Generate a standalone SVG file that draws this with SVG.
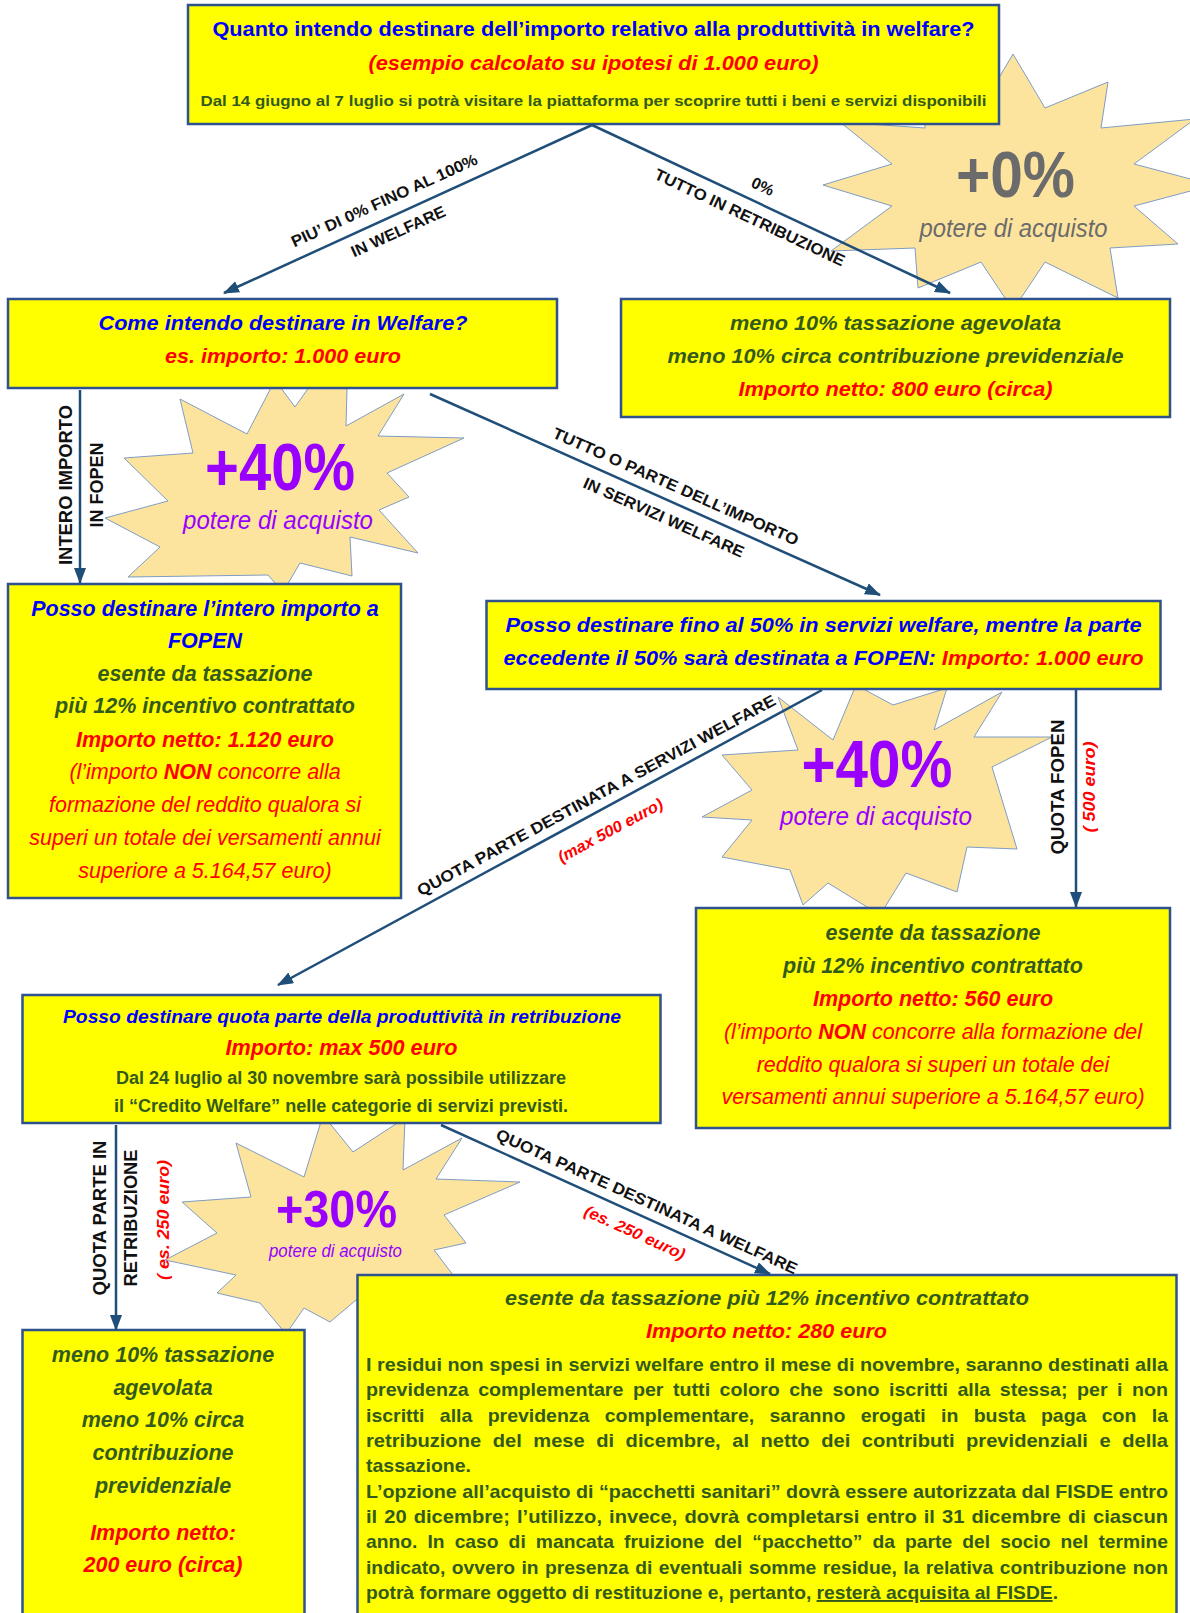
<svg xmlns="http://www.w3.org/2000/svg" width="1190" height="1613" viewBox="0 0 1190 1613">
<defs>
<style>
.box{fill:#ffff00;stroke:#2f528f;stroke-width:2.5}
.star{fill:#fde49e;stroke:#7f9cc4;stroke-width:1}
.conn{stroke:#1f4e79;stroke-width:2.5;fill:none;marker-end:url(#ah)}
text{font-family:"Liberation Sans",Arial,sans-serif}
.b{font-weight:bold}
.i{font-style:italic}
.m{text-anchor:middle}
.blue{fill:#0000ff}
.red{fill:#ff0000}
.green{fill:#335a1c}
.purple{fill:#9900ff}
.gray{fill:#6b6b6b}
.lbl{font-size:16px;font-weight:bold;fill:#111;text-anchor:middle}
.rl{font-size:16px;font-weight:bold;font-style:italic;fill:#ff0000;text-anchor:middle}
.vl{font-size:18px;font-weight:bold;fill:#111;text-anchor:middle}
.p{font-size:19px;font-weight:bold;fill:#335a1c}
</style>
<marker id="ah" markerUnits="userSpaceOnUse" markerWidth="16" markerHeight="12" viewBox="0 0 16 12" refX="15" refY="6" orient="auto">
<path d="M0,0 L16,6 L0,12 z" fill="#1f4e79"/>
</marker>
</defs>
<rect width="1190" height="1613" fill="#ffffff"/>

<!-- starbursts -->
<g id="star-0">
<polygon class="star" points="1213,185 1134,206 1178,244 1110,248 1118,298 1045,262 1013,310 981,262 918,288 915,248 831,251 892,206 823,185 892,164 840,122 925,128 923,88 981,108 1013,54 1045,108 1108,82 1101,128 1195,119 1134,164"/>
<text class="b gray m" x="1015.5" y="197" font-size="65" textLength="119" lengthAdjust="spacingAndGlyphs">+0%</text>
<text class="i gray m" x="1013.5" y="237" font-size="26" textLength="188" lengthAdjust="spacingAndGlyphs">potere di acquisto</text>
</g>
<g id="star-40a">
<polygon class="star" points="180,399 247,434 275,380 295,407 314,380 347,389 346,426 404,394 378,436 464,438 387,473 409,497 379,510 418,553 350,537 352,576 300,563 283,592 268,575 128,577 160,547 105,518 168,501 124,458 193,453"/>
<text class="b purple m" x="280" y="490" font-size="66" textLength="150" lengthAdjust="spacingAndGlyphs">+40%</text>
<text class="i purple m" x="278" y="529" font-size="25" textLength="190" lengthAdjust="spacingAndGlyphs">potere di acquisto</text>
</g>
<g id="star-40b">
<polygon class="star" points="778,697 833,740 856,685 893,705 947,688 934,730 1002,692 974,737 1052,737 992,767 1017,849 967,847 957,892 906,873 880,915 828,883 803,905 790,870 722,857 752,820 702,817 752,790 722,755 798,750"/>
<text class="b purple m" x="877" y="787" font-size="66" textLength="151" lengthAdjust="spacingAndGlyphs">+40%</text>
<text class="i purple m" x="876" y="825" font-size="25" textLength="192" lengthAdjust="spacingAndGlyphs">potere di acquisto</text>
</g>
<g id="star-30">
<polygon class="star" points="236,1143 304,1177 323,1115 353,1152 405,1118 403,1170 462,1138 436,1179 520,1182 444,1215 466,1243 434,1250 453,1275 408,1280 390,1313 356,1300 330,1322 304,1308 286,1334 260,1303 217,1293 236,1275 165,1260 217,1233 182,1202 251,1197"/>
<text class="b purple m" x="336.5" y="1227" font-size="51" textLength="121" lengthAdjust="spacingAndGlyphs">+30%</text>
<text class="i purple m" x="335.5" y="1257" font-size="17.5" textLength="133" lengthAdjust="spacingAndGlyphs">potere di acquisto</text>
</g>

<!-- nodes -->
<g id="n-top">
<rect class="box" x="188" y="5" width="811" height="119"/>
<text class="b blue m" x="593.5" y="36" font-size="20" textLength="762" lengthAdjust="spacingAndGlyphs">Quanto intendo destinare dell’importo relativo alla produttività in welfare?</text>
<text class="b i red m" x="593.5" y="70" font-size="21" textLength="450" lengthAdjust="spacingAndGlyphs">(esempio calcolato su ipotesi di 1.000 euro)</text>
<text class="b green m" x="593.5" y="106" font-size="15" textLength="786" lengthAdjust="spacingAndGlyphs">Dal 14 giugno al 7 luglio si potrà visitare la piattaforma per scoprire tutti i beni e servizi disponibili</text>
</g>
<g id="n-come">
<rect class="box" x="8" y="299" width="549" height="89"/>
<text class="b i blue m" x="283" y="330" font-size="21" textLength="369" lengthAdjust="spacingAndGlyphs">Come intendo destinare in Welfare?</text>
<text class="b i red m" x="283" y="363" font-size="21" textLength="236" lengthAdjust="spacingAndGlyphs">es. importo: 1.000 euro</text>
</g>
<g id="n-retrib">
<rect class="box" x="621" y="299" width="549" height="118"/>
<text class="b i green m" x="895.5" y="330" font-size="21" textLength="331" lengthAdjust="spacingAndGlyphs">meno 10% tassazione agevolata</text>
<text class="b i green m" x="895.5" y="363" font-size="21" textLength="456" lengthAdjust="spacingAndGlyphs">meno 10% circa contribuzione previdenziale</text>
<text class="b i red m" x="895.5" y="396" font-size="21" textLength="314" lengthAdjust="spacingAndGlyphs">Importo netto: 800 euro (circa)</text>
</g>
<g id="n-fopen">
<rect class="box" x="8" y="584" width="393" height="314"/>
<text class="b i blue m" x="205" y="616" font-size="21.5">Posso destinare l’intero importo a</text>
<text class="b i blue m" x="205" y="648" font-size="21.5">FOPEN</text>
<text class="b i green m" x="205" y="681" font-size="21.5">esente da tassazione</text>
<text class="b i green m" x="205" y="713" font-size="21.5">più 12% incentivo contrattato</text>
<text class="b i red m" x="205" y="746.5" font-size="21.5">Importo netto: 1.120 euro</text>
<text class="i red m" x="205" y="779" font-size="21.5">(l’importo <tspan class="b">NON</tspan> concorre alla</text>
<text class="i red m" x="205" y="812" font-size="21.5">formazione del reddito qualora si</text>
<text class="i red m" x="205" y="845" font-size="21.5">superi un totale dei versamenti annui</text>
<text class="i red m" x="205" y="878" font-size="21.5">superiore a 5.164,57 euro)</text>
</g>
<g id="n-servizi">
<rect class="box" x="486.5" y="601" width="674" height="88"/>
<text class="b i blue m" x="823.5" y="632" font-size="21" textLength="636" lengthAdjust="spacingAndGlyphs">Posso destinare fino al 50% in servizi welfare, mentre la parte</text>
<text class="b i blue m" x="823.5" y="665" font-size="21" textLength="640" lengthAdjust="spacingAndGlyphs">eccedente il 50% sarà destinata a FOPEN: <tspan class="red">Importo: 1.000 euro</tspan></text>
</g>
<g id="n-fopen560">
<rect class="box" x="696" y="908" width="474" height="220"/>
<text class="b i green m" x="933" y="940" font-size="21.5">esente da tassazione</text>
<text class="b i green m" x="933" y="973" font-size="21.5">più 12% incentivo contrattato</text>
<text class="b i red m" x="933" y="1005.5" font-size="21.5">Importo netto: 560 euro</text>
<text class="i red m" x="933" y="1038.5" font-size="21.5">(l’importo <tspan class="b">NON</tspan> concorre alla formazione del</text>
<text class="i red m" x="933" y="1071.5" font-size="21.5">reddito qualora si superi un totale dei</text>
<text class="i red m" x="933" y="1104" font-size="21.5">versamenti annui superiore a 5.164,57 euro)</text>
</g>
<g id="n-quota">
<rect class="box" x="22.5" y="995" width="638" height="128"/>
<text class="b i blue m" x="342" y="1023" font-size="19" textLength="558" lengthAdjust="spacingAndGlyphs">Posso destinare quota parte della produttività in retribuzione</text>
<text class="b i red m" x="341.5" y="1055" font-size="21.5" textLength="232" lengthAdjust="spacingAndGlyphs">Importo: max 500 euro</text>
<text class="b green m" x="341" y="1084" font-size="18" textLength="450" lengthAdjust="spacingAndGlyphs">Dal 24 luglio al 30 novembre sarà possibile utilizzare</text>
<text class="b green m" x="341" y="1112" font-size="18" textLength="454" lengthAdjust="spacingAndGlyphs">il “Credito Welfare” nelle categorie di servizi previsti.</text>
</g>
<g id="n-retrib200">
<rect class="box" x="22.5" y="1330" width="282" height="290"/>
<text class="b i green m" x="163" y="1362" font-size="21.5">meno 10% tassazione</text>
<text class="b i green m" x="163" y="1394.5" font-size="21.5">agevolata</text>
<text class="b i green m" x="163" y="1427" font-size="21.5">meno 10% circa</text>
<text class="b i green m" x="163" y="1460" font-size="21.5">contribuzione</text>
<text class="b i green m" x="163" y="1493" font-size="21.5">previdenziale</text>
<text class="b i red m" x="163" y="1540" font-size="21.5">Importo netto:</text>
<text class="b i red m" x="163" y="1572" font-size="21.5">200 euro (circa)</text>
</g>
<g id="n-welfare280">
<rect class="box" x="357.5" y="1275" width="819" height="345"/>
<text class="b i green m" x="767" y="1305" font-size="21" textLength="524" lengthAdjust="spacingAndGlyphs">esente da tassazione più 12% incentivo contrattato</text>
<text class="b i red m" x="766.5" y="1338" font-size="21" textLength="241" lengthAdjust="spacingAndGlyphs">Importo netto: 280 euro</text>
<text class="p" x="366" y="1371" font-size="18.6" textLength="802" lengthAdjust="spacingAndGlyphs">I residui non spesi in servizi welfare entro il mese di novembre, saranno destinati alla</text>
<text class="p" x="366" y="1396.3" word-spacing="3.9" textLength="802" lengthAdjust="spacingAndGlyphs">previdenza complementare per tutti coloro che sono iscritti alla stessa; per i non</text>
<text class="p" x="366" y="1421.7" word-spacing="9.7" textLength="802" lengthAdjust="spacingAndGlyphs">iscritti alla previdenza complementare, saranno erogati in busta paga con la</text>
<text class="p" x="366" y="1447" word-spacing="5.6" textLength="802" lengthAdjust="spacingAndGlyphs">retribuzione del mese di dicembre, al netto dei contributi previdenziali e della</text>
<text class="p" x="366" y="1472.3" textLength="105" lengthAdjust="spacingAndGlyphs">tassazione.</text>
<text class="p" x="366" y="1497.7" font-size="18.6" textLength="802" lengthAdjust="spacingAndGlyphs">L’opzione all’acquisto di “pacchetti sanitari” dovrà essere autorizzata dal FISDE entro</text>
<text class="p" x="366" y="1523" word-spacing="1.4" textLength="802" lengthAdjust="spacingAndGlyphs">il 20 dicembre; l’utilizzo, invece, dovrà completarsi entro il 31 dicembre di ciascun</text>
<text class="p" x="366" y="1548.3" word-spacing="4.7" textLength="802" lengthAdjust="spacingAndGlyphs">anno. In caso di mancata fruizione del “pacchetto” da parte del socio nel termine</text>
<text class="p" x="366" y="1573.7" word-spacing="1.1" textLength="802" lengthAdjust="spacingAndGlyphs">indicato, ovvero in presenza di eventuali somme residue, la relativa contribuzione non</text>
<text class="p" x="366" y="1599" textLength="692" lengthAdjust="spacingAndGlyphs">potrà formare oggetto di restituzione e, pertanto, <tspan text-decoration="underline">resterà acquisita al FISDE</tspan>.</text>
</g>

<!-- connectors -->
<g id="connectors">
<line class="conn" x1="592" y1="125" x2="224" y2="293"/>
<line class="conn" x1="592" y1="125" x2="950" y2="293"/>
<line class="conn" x1="80" y1="390" x2="80" y2="583"/>
<line class="conn" x1="430" y1="394" x2="880" y2="595"/>
<line class="conn" x1="822" y1="690" x2="278" y2="985"/>
<line class="conn" x1="1076" y1="690" x2="1076" y2="907"/>
<line class="conn" x1="116" y1="1125" x2="116" y2="1330"/>
<line class="conn" x1="441" y1="1125" x2="770" y2="1274"/>

<g transform="translate(384,200) rotate(-24.5)"><text class="lbl" y="6" textLength="203" lengthAdjust="spacingAndGlyphs">PIU’ DI 0% FINO AL 100%</text></g>
<g transform="translate(398,231) rotate(-24.5)"><text class="lbl" y="6" textLength="102" lengthAdjust="spacingAndGlyphs">IN WELFARE</text></g>
<g transform="translate(763,186) rotate(25.1)"><text class="lbl" y="6" font-size="17">0%</text></g>
<g transform="translate(750,217) rotate(25.1)"><text class="lbl" y="6" textLength="208" lengthAdjust="spacingAndGlyphs">TUTTO IN RETRIBUZIONE</text></g>
<g transform="translate(676,486) rotate(24)"><text class="lbl" y="6" textLength="267" lengthAdjust="spacingAndGlyphs">TUTTO O PARTE DELL’IMPORTO</text></g>
<g transform="translate(664,517) rotate(24)"><text class="lbl" y="6" textLength="174" lengthAdjust="spacingAndGlyphs">IN SERVIZI WELFARE</text></g>
<g transform="translate(596,795) rotate(-28.4)"><text class="lbl" y="6" textLength="405" lengthAdjust="spacingAndGlyphs">QUOTA PARTE DESTINATA A SERVIZI WELFARE</text></g>
<g transform="translate(610,830) rotate(-28.4)"><text class="rl" y="6" textLength="117" lengthAdjust="spacingAndGlyphs">(max 500 euro)</text></g>
<g transform="translate(647,1201) rotate(24.4)"><text class="lbl" y="6" textLength="329" lengthAdjust="spacingAndGlyphs">QUOTA PARTE DESTINATA A WELFARE</text></g>
<g transform="translate(635,1232) rotate(24.4)"><text class="rl" y="6" textLength="109" lengthAdjust="spacingAndGlyphs">(es. 250 euro)</text></g>

<g transform="translate(65,485) rotate(-90)"><text class="vl" y="6.5" textLength="160" lengthAdjust="spacingAndGlyphs">INTERO IMPORTO</text></g>
<g transform="translate(96,485) rotate(-90)"><text class="vl" y="6.5" textLength="85" lengthAdjust="spacingAndGlyphs">IN FOPEN</text></g>
<g transform="translate(1057.5,787) rotate(-90)"><text class="vl" y="6.5" textLength="135" lengthAdjust="spacingAndGlyphs">QUOTA FOPEN</text></g>
<g transform="translate(1089,787) rotate(-90)"><text class="rl" y="6" textLength="91" lengthAdjust="spacingAndGlyphs">( 500 euro)</text></g>
<g transform="translate(99,1218) rotate(-90)"><text class="vl" y="6.5" textLength="155" lengthAdjust="spacingAndGlyphs">QUOTA PARTE IN</text></g>
<g transform="translate(130,1218) rotate(-90)"><text class="vl" y="6.5" textLength="137" lengthAdjust="spacingAndGlyphs">RETRIBUZIONE</text></g>
<g transform="translate(163,1220) rotate(-90)"><text class="rl" y="6" textLength="120" lengthAdjust="spacingAndGlyphs">( es. 250 euro)</text></g>
</g>
</svg>
